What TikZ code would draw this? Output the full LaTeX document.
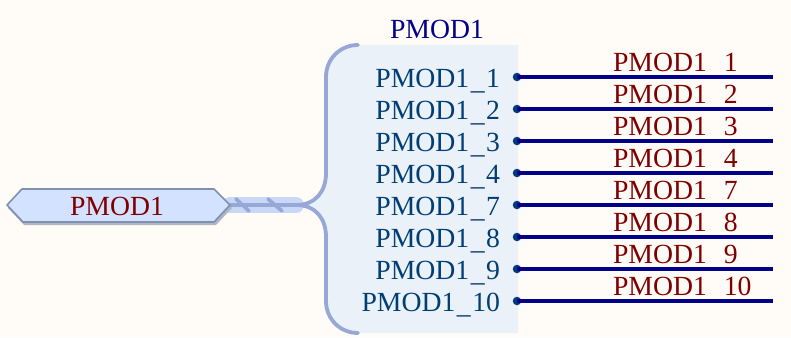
\documentclass[tikz,border=0pt]{standalone}
\usepackage{fontspec}
\setmainfont{Liberation Serif}
\definecolor{bgc}{HTML}{FFFBF6}
\definecolor{boxc}{HTML}{EBF1F9}
\definecolor{bracec}{HTML}{98A8D6}
\definecolor{busc}{HTML}{C8D8F6}
\definecolor{wirec}{HTML}{00008B}
\definecolor{dotc}{HTML}{003A7A}
\definecolor{pinc}{HTML}{003E74}
\definecolor{redc}{HTML}{800000}
\definecolor{hexc}{HTML}{D2E2FF}
\definecolor{hexl}{HTML}{8090B0}
\definecolor{shadc}{HTML}{B0B6C4}
\newcommand{\usc}{\kern1.5pt\raisebox{-2pt}{\_}\kern1.5pt}
\tikzset{
  x=1pt,y=-1pt,
  every node/.style={inner sep=0pt,outer sep=0pt,font=\fontsize{27.7}{30}\selectfont},
  pinlabel/.style={anchor=base east,text=pinc},
  netlabel/.style={anchor=base west,text=redc},
  wire/.style={draw=wirec,line width=3.6pt},
  pindot/.style={circle,fill=dotc,minimum size=8.5pt},
  bracel/.style={draw=bracec,line width=3.8pt,line cap=round},
  busband/.style={draw=busc,line width=16pt,line cap=round},
  busline/.style={draw=bracec,line width=3.4pt},
  hatch/.style={draw=bracec,line width=3.6pt,line cap=round},
}
\begin{document}
\begin{tikzpicture}
\useasboundingbox (0,0) rectangle (791,337);
\fill[bgc] (0,0) rectangle (791,337);
% symbol body
\fill[boxc] (518,45) -- (358,45) .. controls (340,45) and (326,59) .. (326,77)
  -- (326,173) .. controls (326,191) and (316,205) .. (298,205)
  .. controls (316,205) and (326,219) .. (326,237) -- (326,301)
  .. controls (326,319) and (340,333) .. (358,333) -- (518,333) -- cycle;
% bus
\coordinate (busA) at (230,205);
\coordinate (busB) at (296,205);
\draw[busband] (busA) -- (busB);
\path[fill=shadc] (8,208) -- (23,192) -- (216,192) -- (232,208) -- (216,225) -- (24,225) -- cycle;
\draw[busline] (busA) -- (busB);
\draw[hatch] (236,199) -- (249,211);
\draw[hatch] (268,199) -- (282,211);
% port
\path[fill=hexc,draw=hexl,line width=1.6pt,line join=round] (7,205) -- (22,189) -- (214,189) -- (230,205) -- (214,222) -- (23,222) -- cycle;
\node[netlabel,anchor=base] (port) at (117,215) {PMOD1};
% brace
\draw[bracel] (358,45) .. controls (340,45) and (326,59) .. (326,77)
  -- (326,173) .. controls (326,191) and (316,205) .. (busB)
  .. controls (316,205) and (326,219) .. (326,237) -- (326,301)
  .. controls (326,319) and (340,333) .. (358,333);
% title
\node[anchor=base,text=wirec] (title) at (437,39) {PMOD1};
% net labels
\foreach \n/\lab/\y in {1/1/77,2/2/109,3/3/141,4/4/173,5/7/205,6/8/237,7/9/269,8/10/301}{
  \node[pinlabel] (pin\n) at (500,\y+10) {PMOD1\usc\lab};
  \node[netlabel] (net\n) at (613,\y-6) {PMOD1\usc\lab};
  \node[pindot] (dot\n) at (517,\y) {};
  \coordinate (end\n) at (773,\y);
  \draw[wire] (dot\n.center) -- (end\n);
}
\end{tikzpicture}
\end{document}
